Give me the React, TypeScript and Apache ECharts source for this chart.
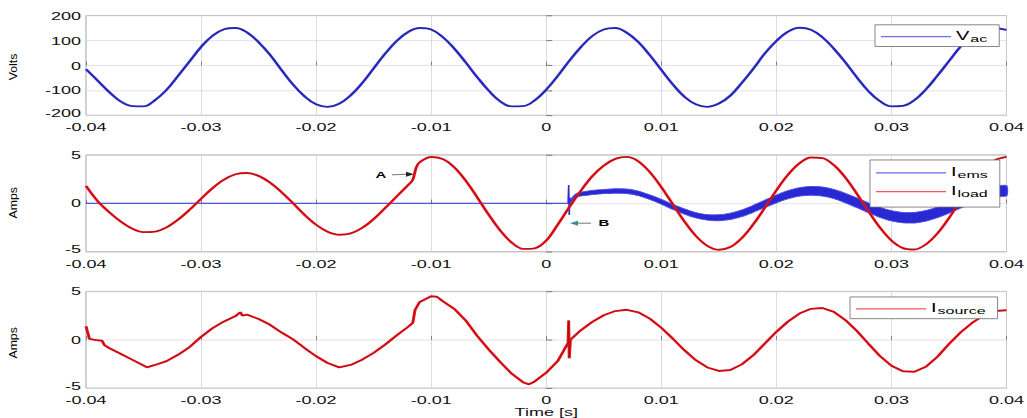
import React, { useEffect, useRef } from 'react';
import * as echarts from 'echarts';

// The reference figure is vertically squashed; we render taller and squash with CSS.
const SQUASH = 0.62;
const W = 1027;
const H = Math.round(418 / SQUASH);
const FONT = '"Liberation Sans", Arial, Helvetica, sans-serif';

// ---------- data (time in seconds) ----------
const T_GRID = [
  -0.04, -0.039, -0.038, -0.037, -0.036, -0.035, -0.034, -0.033, -0.032, -0.031,
  -0.03, -0.029, -0.028, -0.027, -0.026, -0.025, -0.024, -0.023, -0.022, -0.021,
  -0.02, -0.019, -0.018, -0.017, -0.016, -0.015, -0.014, -0.013, -0.012, -0.011,
  -0.01, -0.009, -0.008, -0.007, -0.006, -0.005, -0.004, -0.003, -0.002, -0.001,
  0, 0.001, 0.002, 0.003, 0.004, 0.005, 0.006, 0.007, 0.008, 0.009,
  0.01, 0.011, 0.012, 0.013, 0.014, 0.015, 0.016, 0.017, 0.018, 0.019,
  0.02, 0.021, 0.022, 0.023, 0.024, 0.025, 0.026, 0.027, 0.028, 0.029,
  0.03, 0.031, 0.032, 0.033, 0.034, 0.035, 0.036, 0.037, 0.038, 0.039, 0.04,
];

const VAC = [
  -15, -60, -106, -144, -163, -164, -139, -98, -42, 16,
  74, 119, 145, 150, 132, 93, 42, -19, -77, -124,
  -156, -166, -154, -120, -71, -12, 47, 98, 134, 150,
  144, 114, 68, 12, -47, -101, -144, -164, -163, -140,
  -97, -42, 18, 73, 118, 144, 150, 131, 94, 41,
  -18, -76, -125, -156, -166, -153, -121, -70, -13, 48,
  98, 135, 151, 143, 113, 67, 12, -48, -103, -143,
  -164, -162, -139, -96, -41, 17, 75, 118, 144, 149, 142,
];

const I_LOAD_T = [
  -0.04, -0.039, -0.038, -0.037, -0.036, -0.035, -0.034, -0.033, -0.032, -0.031,
  -0.03, -0.029, -0.028, -0.027, -0.026, -0.025, -0.024, -0.023, -0.022, -0.021,
  -0.02, -0.019, -0.018, -0.017, -0.016, -0.015, -0.014, -0.013, -0.012,
  -0.0116, -0.0113, -0.011,
  -0.01, -0.009, -0.008, -0.007, -0.006, -0.005, -0.004, -0.003, -0.002, -0.001,
  0, 0.001, 0.002, 0.003, 0.004, 0.005, 0.006, 0.007, 0.008, 0.009,
  0.01, 0.011, 0.012, 0.013, 0.014, 0.015, 0.016, 0.017, 0.018, 0.019,
  0.02, 0.021, 0.022, 0.023, 0.024, 0.025, 0.026, 0.027, 0.028, 0.029,
  0.03, 0.031, 0.032, 0.033, 0.034, 0.035, 0.036, 0.037, 0.038, 0.039, 0.04,
];
const I_LOAD = [
  1.8, 0.25, -0.9, -1.87, -2.6, -2.97, -2.92, -2.48, -1.69, -0.67,
  0.47, 1.58, 2.46, 3.01, 3.14, 2.84, 2.14, 1.15, 0.0, -1.19,
  -2.21, -2.93, -3.24, -3.11, -2.54, -1.63, -0.48, 0.72, 1.9,
  2.45, 3.7, 4.25,
  4.79, 4.58, 3.73, 2.35, 0.63, -1.17, -2.81, -4.06, -4.71, -4.65,
  -3.85, -2.2, -0.4, 1.3, 2.8, 3.9, 4.6, 4.8, 4.35, 3.23,
  1.69, -0.09, -1.86, -3.36, -4.39, -4.8, -4.52, -3.58, -2.15, -0.45,
  1.35, 2.94, 4.13, 4.74, 4.68, 3.95, 2.66, 0.99, -0.81, -2.5,
  -3.84, -4.63, -4.77, -4.23, -3.1, -1.52, 0.27, 2.02, 3.49, 4.46, 4.8,
];

// compensator current: flat until switch-on at B, then a noisy sinusoid (mid line and half thickness)
const I_EMS_FLAT_T = [-0.04, 0.0019, 0.00195, 0.002, 0.00205, 0.0021];
const I_EMS_FLAT = [0, 0, 1.9, -1.2, 0.6, 0.2];

const I_EMS_BAND_T = [
  0.0021, 0.0025, 0.003, 0.004, 0.005, 0.006, 0.007, 0.008, 0.009, 0.01,
  0.011, 0.012, 0.013, 0.014, 0.015, 0.016, 0.017, 0.018, 0.019, 0.02,
  0.021, 0.022, 0.023, 0.024, 0.025, 0.026, 0.027, 0.028, 0.029, 0.03,
  0.031, 0.032, 0.033, 0.034, 0.035, 0.036, 0.037, 0.038, 0.039, 0.04,
];
const I_EMS_MID = [
  0.2, 0.75, 0.95, 1.12, 1.22, 1.28, 1.25, 1.03, 0.64, 0.16,
  -0.36, -0.84, -1.23, -1.45, -1.49, -1.34, -1.02, -0.56, -0.05, 0.46,
  0.89, 1.18, 1.3, 1.22, 0.96, 0.55, 0.06, -0.46, -0.93, -1.29,
  -1.48, -1.48, -1.29, -0.93, -0.46, 0.06, 0.55, 0.96, 1.22, 1.3,
];
const I_EMS_HALF = [
  0.1, 0.16, 0.2, 0.22, 0.22, 0.23, 0.23, 0.24, 0.24, 0.25,
  0.26, 0.27, 0.28, 0.29, 0.31, 0.33, 0.34, 0.36, 0.38, 0.4,
  0.42, 0.44, 0.46, 0.47, 0.48, 0.49, 0.5, 0.51, 0.52, 0.53,
  0.54, 0.55, 0.55, 0.55, 0.55, 0.55, 0.55, 0.55, 0.55, 0.55,
];

const I_SOURCE_T = [
  -0.04, -0.0397, -0.039, -0.0386, -0.0384, -0.038, -0.037, -0.036, -0.035, -0.0347,
  -0.034, -0.033, -0.032, -0.031, -0.03, -0.029, -0.028, -0.027, -0.0266, -0.0264,
  -0.026, -0.025, -0.024, -0.023, -0.022, -0.021, -0.02, -0.019, -0.018, -0.017,
  -0.016, -0.015, -0.014, -0.013, -0.012, -0.0116, -0.0114, -0.011, -0.01, -0.0095,
  -0.009, -0.008, -0.007, -0.006, -0.005, -0.004, -0.003, -0.002, -0.0015, -0.001,
  0, 0.001, 0.0019, 0.00195, 0.002, 0.0021,
  0.003, 0.004, 0.005, 0.006, 0.007, 0.008, 0.009, 0.01, 0.011, 0.012,
  0.013, 0.014, 0.015, 0.016, 0.017, 0.018, 0.019, 0.02, 0.021, 0.022,
  0.023, 0.024, 0.025, 0.026, 0.027, 0.028, 0.029, 0.03, 0.031, 0.032,
  0.033, 0.034, 0.035, 0.036, 0.037, 0.038, 0.039, 0.04,
];
const I_SOURCE = [
  1.4, 0.1, -0.05, -0.1, -0.55, -0.85, -1.45, -2.05, -2.65, -2.85,
  -2.6, -2.2, -1.55, -0.75, 0.3, 1.2, 1.9, 2.45, 2.85, 2.5,
  2.6, 2.15, 1.55, 0.75, 0.05, -0.85, -1.7, -2.4, -2.85, -2.6,
  -2.05, -1.35, -0.5, 0.45, 1.35, 1.75, 3.1, 3.9, 4.5, 4.45,
  4.0, 3.2, 2.0, 0.4, -1.0, -2.3, -3.5, -4.4, -4.6, -4.3,
  -3.4, -2.2, -0.3, 2.0, -1.9, 0.0,
  0.98, 1.85, 2.54, 2.97, 3.1, 2.84, 2.19, 1.24, 0.12, -1.07,
  -2.11, -2.86, -3.22, -3.12, -2.54, -1.59, -0.38, 0.82, 1.88, 2.71,
  3.2, 3.28, 2.88, 2.04, 0.9, -0.4, -1.68, -2.68, -3.25, -3.3,
  -2.78, -1.76, -0.43, 0.75, 1.74, 2.5, 2.98, 3.05,
];

const LEGEND_LABELS: Record<string, string> = {
  Vac: '{m|V}{s|ac}',
  Iems: '{m|I}{s|ems}',
  Iload: '{m|I}{s|load}',
  Isource: '{m|I}{s|source}',
};

const zip = (t: number[], v: number[]) => t.map((x, i) => [x, v[i]]);

function buildOption(): any {
  const gridBox = { show: true, borderColor: '#8a8a8a', borderWidth: 1, backgroundColor: '#ffffff' };
  const grids = [
    { ...gridBox, left: 86, width: 922, top: 25, height: 161 },
    { ...gridBox, left: 86, width: 922, top: 250, height: 156 },
    { ...gridBox, left: 86, width: 922, top: 470, height: 158 },
  ];
  const labelStyle = { fontSize: 18, color: '#111', fontFamily: FONT };
  const xAxes = [0, 1, 2].map((i) => ({
    type: 'value',
    gridIndex: i,
    min: -0.04,
    max: 0.04,
    interval: 0.01,
    axisLine: { show: false },
    axisTick: { show: true, inside: true, length: 6, lineStyle: { color: '#666' } },
    splitLine: { show: true, lineStyle: { color: '#d4d4d4', width: 1 } },
    axisLabel: {
      ...labelStyle,
      margin: 10,
      showMinLabel: true,
      showMaxLabel: true,
      formatter: (v: number) => (Math.abs(v) < 1e-9 ? '0' : v.toFixed(2)),
    },
    name: i === 2 ? 'Time [s]' : '',
    nameLocation: 'middle',
    nameGap: 27,
    nameTextStyle: { fontSize: 18, color: '#111', fontFamily: FONT },
  }));
  const yAxis = (gi: number, min: number, max: number, interval: number) => ({
    type: 'value',
    gridIndex: gi,
    min,
    max,
    interval,
    axisLine: { show: false },
    axisTick: { show: true, inside: true, length: 6, lineStyle: { color: '#666' } },
    splitLine: { show: true, lineStyle: { color: '#dcdcdc', width: 1 } },
    axisLabel: {
      ...labelStyle,
      margin: 5,
      formatter: (v: number) => (v === min ? `{lo|${v}}` : `${v}`),
      rich: { lo: { ...labelStyle, padding: [0, 0, 8, 0] } },
    },
  });
  const yAxes = [yAxis(0, -200, 200, 100), yAxis(1, -5, 5, 5), yAxis(2, -5, 5, 5)];

  const bandLo = I_EMS_MID.map((m, i) => m - I_EMS_HALF[i]);
  const bandHi = I_EMS_MID.map((m, i) => m + I_EMS_HALF[i]);

  const line = (name: string, xi: number, data: number[][], color: string, width: number, extra: any = {}) => ({
    name,
    type: 'line',
    xAxisIndex: xi,
    yAxisIndex: xi,
    data,
    symbol: 'none',
    silent: true,
    lineStyle: { color, width },
    itemStyle: { color },
    ...extra,
  });

  const series: any[] = [
    line('Vac', 0, zip(T_GRID, VAC), '#3434d2', 3, { smooth: 0.4 }),
    line('VacCore', 0, zip(T_GRID, VAC), '#14146a', 1, { smooth: 0.4, lineStyle: { color: '#14146a', width: 1, opacity: 0.7 } }),
    line('Iems', 1, zip(I_EMS_FLAT_T, I_EMS_FLAT), '#2a2ad8', 1.6),
    {
      type: 'custom',
      name: 'emsBand',
      xAxisIndex: 1,
      yAxisIndex: 1,
      silent: true,
      data: I_EMS_BAND_T.map((t, i) => [t, bandLo[i], bandHi[i]]),
      encode: { x: 0, y: [1, 2] },
      renderItem: (params: any, api: any) => {
        if (params.dataIndex !== 0) return null;
        const upper = I_EMS_BAND_T.map((t, i) => api.coord([t, bandHi[i]]));
        const lower = I_EMS_BAND_T.map((t, i) => api.coord([t, bandLo[i]])).reverse();
        return {
          type: 'polygon',
          shape: { points: upper.concat(lower), smooth: 0.2 },
          style: { fill: '#1e1ed2', stroke: '#4a4ae8', lineWidth: 1.4, opacity: 0.95 },
        };
      },
    },
    line('Iload', 1, zip(I_LOAD_T, I_LOAD), '#e6161e', 3, { smooth: 0.35 }),
    line('IloadCore', 1, zip(I_LOAD_T, I_LOAD), '#7a0a0a', 1, { smooth: 0.35, lineStyle: { color: '#7a0a0a', width: 1, opacity: 0.6 } }),
    line('Isource', 2, zip(I_SOURCE_T, I_SOURCE), '#e6161e', 3),
    line('IsourceCore', 2, zip(I_SOURCE_T, I_SOURCE), '#7a0a0a', 1, { lineStyle: { color: '#7a0a0a', width: 1, opacity: 0.55 } }),
  ];

  const legendBase = {
    orient: 'vertical',
    icon: 'rect',
    itemWidth: 70,
    itemHeight: 2,
    itemGap: 5,
    backgroundColor: '#ffffff',
    borderColor: '#6a6a6a',
    borderWidth: 1,
    borderRadius: 0,
    padding: [5, 12, 5, 6],
    selectedMode: false,
    itemStyle: { opacity: 0.7 },
    formatter: (n: string) => LEGEND_LABELS[n] || n,
    textStyle: {
      fontFamily: FONT,
      color: '#000',
      rich: {
        m: { fontSize: 20, fontFamily: FONT, color: '#000', lineHeight: 22, verticalAlign: 'top' },
        s: { fontSize: 16, fontFamily: FONT, color: '#000', lineHeight: 20, verticalAlign: 'bottom', padding: [9, 0, 0, 1] },
      },
    },
  };

  const arrowColor = '#555';
  const graphic = [
    { type: 'text', x: 13, y: 108, rotation: Math.PI / 2, scaleX: 1.8, style: { text: 'Volts', fontSize: 11, fontFamily: FONT, fill: '#000', align: 'center', verticalAlign: 'middle' } },
    { type: 'text', x: 13, y: 327, rotation: Math.PI / 2, scaleX: 1.8, style: { text: 'Amps', fontSize: 11, fontFamily: FONT, fill: '#000', align: 'center', verticalAlign: 'middle' } },
    { type: 'text', x: 13, y: 553, rotation: Math.PI / 2, scaleX: 1.8, style: { text: 'Amps', fontSize: 11, fontFamily: FONT, fill: '#000', align: 'center', verticalAlign: 'middle' } },
    { type: 'text', x: 381, y: 282, style: { text: 'A', fontSize: 15, fontWeight: 'bold', fontFamily: FONT, fill: '#000', align: 'center', verticalAlign: 'middle' } },
    { type: 'line', shape: { x1: 392, y1: 282, x2: 408, y2: 281 }, style: { stroke: arrowColor, lineWidth: 1 } },
    { type: 'polygon', shape: { points: [[414, 281], [406, 277], [406, 285]] }, style: { fill: '#222' } },
    { type: 'text', x: 604, y: 360, style: { text: 'B', fontSize: 15, fontWeight: 'bold', fontFamily: FONT, fill: '#000', align: 'center', verticalAlign: 'middle' } },
    { type: 'line', shape: { x1: 591, y1: 360, x2: 576, y2: 360 }, style: { stroke: arrowColor, lineWidth: 1 } },
    { type: 'polygon', shape: { points: [[570, 360], [578, 356], [578, 364]] }, style: { fill: '#2f8f99' } },
  ];

  return {
    animation: false,
    backgroundColor: '#ffffff',
    grid: grids,
    xAxis: xAxes,
    yAxis: yAxes,
    legend: [
      { ...legendBase, data: ['Vac'], left: 875, top: 40 },
      { ...legendBase, data: ['Iems', 'Iload'], left: 870, top: 258, padding: [7, 12, 14, 6] },
      { ...legendBase, data: ['Isource'], left: 850, top: 479 },
    ],
    series,
    graphic,
  };
}

export default function App() {
  const ref = useRef<HTMLDivElement>(null);
  useEffect(() => {
    if (!ref.current) return;
    const chart = echarts.init(ref.current, null, { renderer: 'svg' });
    chart.setOption(buildOption());
    return () => chart.dispose();
  }, []);
  return (
    <div style={{ position: 'fixed', left: 0, top: 0, width: W, height: 418, overflow: 'hidden', background: '#fff' }}>
      <div
        ref={ref}
        style={{ width: W, height: H, transform: `scaleY(${SQUASH})`, transformOrigin: '0 0' }}
      />
    </div>
  );
}
